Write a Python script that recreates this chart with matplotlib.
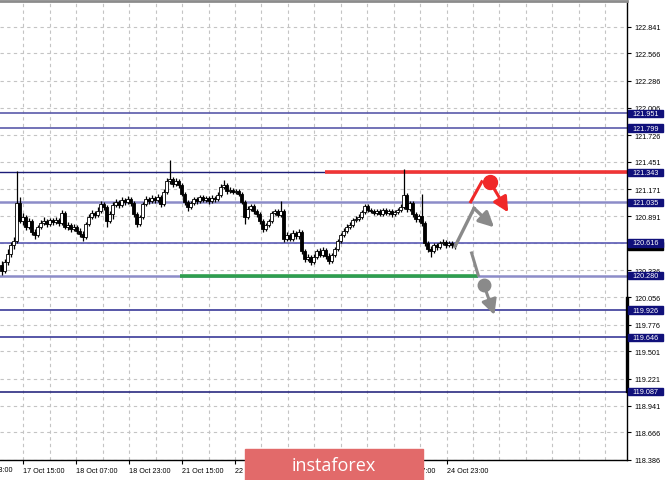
import numpy as np
import matplotlib.pyplot as plt
from matplotlib.patches import Rectangle
from matplotlib.transforms import blended_transform_factory
from matplotlib import font_manager

names = {f.name for f in font_manager.fontManager.ttflist}
small_font = 'Liberation Sans Narrow' if 'Liberation Sans Narrow' in names else 'Liberation Sans'
plt.rcParams['font.family'] = [small_font, 'DejaVu Sans']
fs = 6 if small_font == 'Liberation Sans Narrow' else 5.2

# H1 candles, oldest first
opens = [120.389, 120.328, 120.420, 120.502, 120.595, 120.636, 121.027, 120.842, 120.883, 120.780,
         120.842, 120.729, 120.698, 120.780, 120.821, 120.842, 120.811, 120.852, 120.832, 120.852,
         120.821, 120.924, 120.780, 120.801, 120.760, 120.780, 120.739, 120.708, 120.677, 120.811,
         120.883, 120.924, 120.904, 120.945, 121.017, 120.986, 120.842, 120.914, 121.006, 121.037,
         121.006, 121.058, 121.037, 121.068, 121.027, 120.914, 120.811, 120.883, 121.017, 121.068,
         121.048, 121.079, 121.058, 121.089, 121.017, 121.140, 121.253, 121.274, 121.223, 121.253,
         121.212, 121.120, 121.037, 120.986, 121.027, 121.068, 121.048, 121.089, 121.058, 121.079,
         121.048, 121.079, 121.068, 121.110, 121.192, 121.212, 121.151, 121.161, 121.140, 121.151,
         121.120, 121.037, 120.883, 120.965, 120.996, 120.945, 120.914, 120.842, 120.760, 120.801,
         120.842, 120.924, 120.945, 120.904, 120.945, 120.657, 120.698, 120.657, 120.719, 120.688,
         120.729, 120.533, 120.451, 120.471, 120.420, 120.471, 120.533, 120.492, 120.544, 120.482,
         120.430, 120.492, 120.554, 120.636, 120.698, 120.739, 120.780, 120.801, 120.852, 120.862,
         120.883, 120.934, 120.996, 120.955, 120.945, 120.924, 120.945, 120.914, 120.955, 120.924,
         120.945, 120.914, 120.934, 120.955, 120.986, 121.110, 120.965, 121.027, 120.914, 120.862,
         120.893, 120.821, 120.616, 120.554, 120.533, 120.595, 120.574, 120.616, 120.626, 120.595,
         120.616, 120.595]
closes = [120.328, 120.420, 120.502, 120.595, 120.636, 121.027, 120.842, 120.883, 120.780, 120.842,
          120.729, 120.698, 120.780, 120.821, 120.842, 120.811, 120.852, 120.832, 120.852, 120.821,
          120.924, 120.780, 120.801, 120.760, 120.780, 120.739, 120.708, 120.677, 120.811, 120.883,
          120.924, 120.904, 120.945, 121.017, 120.986, 120.842, 120.914, 121.006, 121.037, 121.006,
          121.058, 121.037, 121.068, 121.027, 120.914, 120.811, 120.883, 121.017, 121.068, 121.048,
          121.079, 121.058, 121.089, 121.017, 121.140, 121.253, 121.274, 121.223, 121.253, 121.212,
          121.120, 121.037, 120.986, 121.027, 121.068, 121.048, 121.089, 121.058, 121.079, 121.048,
          121.079, 121.068, 121.110, 121.192, 121.212, 121.151, 121.161, 121.140, 121.151, 121.120,
          121.037, 120.883, 120.965, 120.996, 120.945, 120.914, 120.842, 120.760, 120.801, 120.842,
          120.924, 120.945, 120.904, 120.945, 120.657, 120.698, 120.657, 120.719, 120.688, 120.729,
          120.533, 120.451, 120.471, 120.420, 120.471, 120.533, 120.492, 120.544, 120.482, 120.430,
          120.492, 120.554, 120.636, 120.698, 120.739, 120.780, 120.801, 120.852, 120.862, 120.883,
          120.934, 120.996, 120.955, 120.945, 120.924, 120.945, 120.914, 120.955, 120.924, 120.945,
          120.914, 120.934, 120.955, 120.986, 121.110, 120.965, 121.027, 120.914, 120.862, 120.893,
          120.821, 120.616, 120.554, 120.533, 120.595, 120.574, 120.616, 120.626, 120.595, 120.616,
          120.595, 120.585]
highs = [120.430, 120.451, 120.554, 120.626, 120.677, 121.356, 121.089, 120.924, 120.904, 120.873,
         120.862, 120.760, 120.801, 120.852, 120.883, 120.862, 120.873, 120.873, 120.883, 120.873,
         120.955, 120.945, 120.832, 120.821, 120.811, 120.801, 120.770, 120.739, 120.832, 120.914,
         120.955, 120.945, 120.986, 121.048, 121.037, 121.006, 120.945, 121.037, 121.068, 121.058,
         121.089, 121.079, 121.099, 121.089, 121.048, 120.934, 120.904, 121.037, 121.099, 121.089,
         121.110, 121.099, 121.120, 121.110, 121.171, 121.284, 121.469, 121.295, 121.284, 121.274,
         121.233, 121.140, 121.058, 121.048, 121.089, 121.089, 121.110, 121.110, 121.099, 121.099,
         121.110, 121.099, 121.140, 121.223, 121.264, 121.233, 121.192, 121.181, 121.171, 121.171,
         121.140, 121.058, 120.996, 121.017, 121.017, 120.965, 120.934, 120.862, 120.821, 120.862,
         120.945, 120.965, 120.965, 121.048, 120.965, 120.729, 120.719, 120.749, 120.739, 120.760,
         120.749, 120.554, 120.502, 120.492, 120.502, 120.554, 120.564, 120.574, 120.564, 120.513,
         120.513, 120.574, 120.657, 120.719, 120.770, 120.811, 120.832, 120.873, 120.893, 120.914,
         120.955, 121.017, 121.017, 120.976, 120.965, 120.965, 120.965, 120.976, 120.976, 120.965,
         120.965, 120.955, 120.976, 121.017, 121.377, 121.130, 121.048, 121.048, 120.934, 120.914,
         121.120, 120.842, 120.636, 120.585, 120.616, 120.616, 120.636, 120.657, 120.646, 120.636,
         120.636, 120.626]
lows = [120.286, 120.307, 120.389, 120.471, 120.554, 120.616, 120.821, 120.801, 120.749, 120.760,
        120.698, 120.657, 120.677, 120.760, 120.801, 120.780, 120.790, 120.801, 120.811, 120.790,
        120.801, 120.760, 120.749, 120.729, 120.739, 120.708, 120.677, 120.636, 120.657, 120.790,
        120.862, 120.873, 120.883, 120.924, 120.955, 120.780, 120.821, 120.862, 120.986, 120.976,
        120.986, 121.006, 121.017, 120.996, 120.883, 120.780, 120.790, 120.862, 120.996, 121.017,
        121.027, 121.027, 121.037, 120.986, 120.996, 121.120, 121.223, 121.192, 121.202, 121.181,
        121.099, 121.006, 120.945, 120.965, 121.006, 121.017, 121.027, 121.037, 121.037, 121.017,
        121.027, 121.037, 121.048, 121.089, 121.171, 121.120, 121.130, 121.120, 121.120, 121.099,
        121.017, 120.811, 120.862, 120.945, 120.914, 120.883, 120.811, 120.729, 120.739, 120.780,
        120.821, 120.904, 120.883, 120.883, 120.626, 120.636, 120.636, 120.636, 120.657, 120.657,
        120.502, 120.420, 120.430, 120.389, 120.399, 120.451, 120.471, 120.471, 120.451, 120.399,
        120.410, 120.471, 120.533, 120.616, 120.677, 120.719, 120.760, 120.780, 120.832, 120.842,
        120.862, 120.914, 120.934, 120.924, 120.904, 120.904, 120.893, 120.893, 120.904, 120.904,
        120.883, 120.893, 120.914, 120.934, 120.965, 120.934, 120.945, 120.883, 120.832, 120.832,
        120.790, 120.585, 120.523, 120.471, 120.513, 120.544, 120.554, 120.595, 120.564, 120.574,
        120.564, 120.554]

price_ticks = [122.841, 122.566, 122.286, 122.006, 121.726, 121.451, 121.171, 120.891, 120.611,
               120.336, 120.056, 119.776, 119.501, 119.221, 118.941, 118.666, 118.386]
time_labels = ['16 Oct 23:00', '17 Oct 15:00', '18 Oct 07:00', '18 Oct 23:00', '21 Oct 15:00',
               '22 Oct 07:00', '22 Oct 23:00', '23 Oct 15:00', '24 Oct 07:00', '24 Oct 23:00']

levels = [121.951, 121.799, 121.343, 121.035, 120.616, 120.280, 119.926, 119.646, 119.087]
level_colors = ['#5a5aaa', '#5a5aaa', '#1c1c78', '#8c8cc8', '#5a5ab4', '#8c8cc8',
                '#3a3a98', '#3a3a98', '#2a2a80']
level_widths = [1.2, 1.2, 1.0, 1.8, 1.2, 1.8, 1.2, 1.2, 1.2]

# forecast marks (bar index, price)
resist_x, resist_y = [107.8, 208.5], [121.343, 121.343]
support_x, support_y = [59.5, 158.8], [120.280, 120.280]
red_up_x, red_up_y = [156.4, 160.1], [121.040, 121.246]
red_dot = (162.8, 121.246)
red_arrow_end = (168.9, 120.931)
grey_up_x, grey_up_y = [151.2, 157.5], [120.582, 120.973]
grey_arrow_end = (164.2, 120.777)
grey_dn_x, grey_dn_y = [156.7, 158.9], [120.513, 120.286]
grey_dot = (160.8, 120.183)
grey_dn_end = (164.3, 119.875)

W, H = 665, 481
fig = plt.figure(figsize=(W / 100, H / 100), dpi=100)
ax = fig.add_axes([0, 20 / H, 627 / W, 459.5 / H])

# grid
first_tick, step = 7.3, 17.63
for gx in np.arange(first_tick - step / 2, 208.5, step / 2):
    ax.axvline(gx, color='#c4c4c4', lw=0.8, ls=(0, (3, 3)), zorder=0)
for p in price_ticks:
    ax.axhline(p, color='#c4c4c4', lw=0.8, ls=(0, (3, 3)), zorder=0)

# levels
for lv, c, lw in zip(levels, level_colors, level_widths):
    ax.axhline(lv, color=c, lw=lw, zorder=1)

ax.plot(resist_x, resist_y, color='#f03535', lw=2.6, zorder=2, solid_capstyle='butt')
ax.plot(support_x, support_y, color='#2e9e4e', lw=2.6, zorder=2, solid_capstyle='butt')

# candles
x = np.arange(len(closes))
o = np.array(opens); c = np.array(closes)
ax.vlines(x, lows, highs, color='black', lw=0.9, zorder=3)
bull = c >= o
bot = np.minimum(o, c)
hgt = np.maximum(np.abs(c - o), 0.004)
ax.bar(x[bull], hgt[bull], bottom=bot[bull], width=0.75, color='white',
       edgecolor='black', lw=0.6, zorder=4)
ax.bar(x[~bull], hgt[~bull], bottom=bot[~bull], width=0.75, color='black',
       edgecolor='black', lw=0.6, zorder=4)

# forecast arrows
ax.plot(red_up_x, red_up_y, color='#f02828', lw=2.2, zorder=5)
ax.plot(*red_dot, 'o', color='#f02828', ms=10, zorder=5)
ax.annotate('', xy=red_arrow_end, xytext=red_dot, zorder=5,
            arrowprops=dict(arrowstyle='-|>,head_length=0.9,head_width=0.45',
                            color='#f02828', lw=2.2, shrinkA=0, shrinkB=0))
ax.plot(grey_up_x, grey_up_y, color='#8a8a8a', lw=2.4, zorder=5)
ax.annotate('', xy=grey_arrow_end, xytext=(grey_up_x[1], grey_up_y[1]), zorder=5,
            arrowprops=dict(arrowstyle='-|>,head_length=0.9,head_width=0.45',
                            color='#8a8a8a', lw=2.4, shrinkA=0, shrinkB=0))
ax.plot(grey_dn_x, grey_dn_y, color='#8a8a8a', lw=2.2, zorder=5)
ax.plot(*grey_dot, 'o', color='#8a8a8a', ms=9, zorder=5)
ax.annotate('', xy=grey_dn_end, xytext=grey_dot, zorder=5,
            arrowprops=dict(arrowstyle='-|>,head_length=0.9,head_width=0.45',
                            color='#8a8a8a', lw=2.2, shrinkA=0, shrinkB=0))

# axes styling
ax.spines['left'].set_visible(False)
ax.spines['top'].set_color('#8c8c8c')
ax.spines['top'].set_linewidth(2)
ax.spines['right'].set_linewidth(1)
ax.spines['bottom'].set_linewidth(1)

ax.yaxis.tick_right()
ax.set_yticks(price_ticks)
ax.set_yticklabels(['%.3f' % p for p in price_ticks])
ax.tick_params(axis='y', length=3, width=0.8, labelsize=fs, pad=2)

xt = [first_tick + step * (k - 1) for k in range(len(time_labels))]
ax.set_xticks(xt[1:])
ax.set_xticklabels(time_labels[1:], ha='left')
ax.tick_params(axis='x', length=3, width=0.8, labelsize=fs, pad=2)
ax.set_xlim(-0.5, 208.5)
ax.set_ylim(118.383, 123.111)
# first label sits left of the chart, only its tail shows
ax.text(xt[0], -0.012, time_labels[0], transform=blended_transform_factory(ax.transData, ax.transAxes),
        fontsize=fs, ha='left', va='top', clip_on=False)

# thick part of the price scale
ax.plot([208.5, 208.5], [119.09, 120.05], color='black', lw=2.4, clip_on=False, zorder=6)

# price boxes on the scale
tr = blended_transform_factory(fig.transFigure, ax.transData)
half = 0.038
ax.add_patch(Rectangle((628 / W, closes[-1] - half), 35 / W, 2 * half, transform=tr,
                       color='black', clip_on=False, zorder=7))
for lv in levels:
    ax.add_patch(Rectangle((628 / W, lv - half), 35 / W, 2 * half, transform=tr,
                           color='#10107a', clip_on=False, zorder=8))
    ax.text(645.5 / W, lv, '%.3f' % lv, transform=tr, color='white', fontsize=fs,
            ha='center', va='center', zorder=9, clip_on=False)

# watermark banner
fig.patches.append(Rectangle((245 / W, 0), 178 / W, 31 / H, transform=fig.transFigure,
                             color='#e26a6a', zorder=10))
fig.text(334 / W, 15 / H, 'instaforex', color='white', fontsize=13, family='Open Sans',
         ha='center', va='center', zorder=11)

fig.savefig('out.png', dpi=100)
